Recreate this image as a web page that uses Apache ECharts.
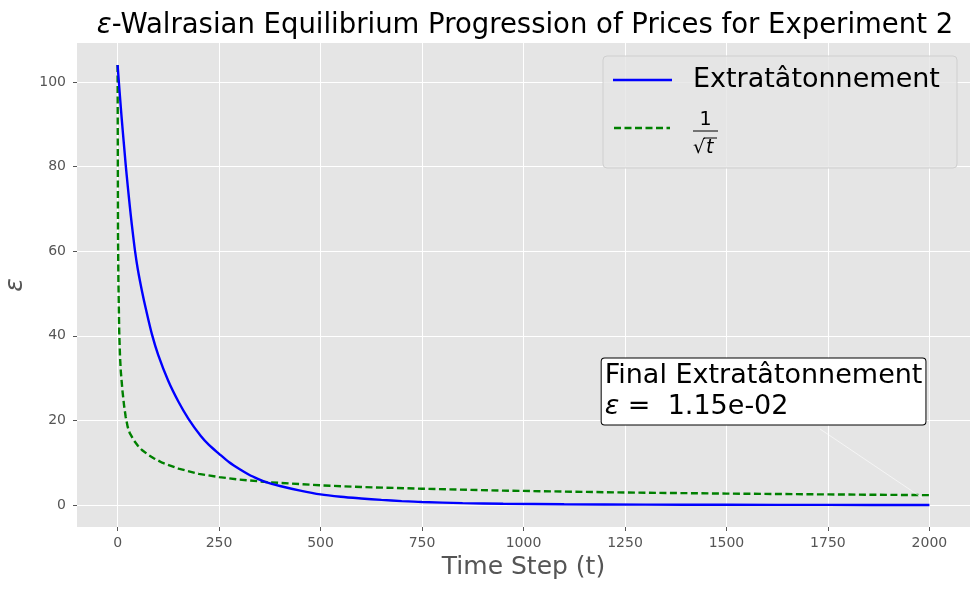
<!DOCTYPE html>
<html>
<head>
<meta charset="utf-8">
<script src="https://cdn.jsdelivr.net/npm/echarts@6/dist/echarts.min.js"></script>
<style>
  html, body { margin: 0; padding: 0; background: #fff; }
  #chart { width: 980px; height: 590px; }
</style>
</head>
<body>
<div id="chart"></div>
<script>
// values
const extraT = [0, 5, 10, 15, 20, 25, 30, 35, 43, 50, 60, 70, 85, 100, 125, 150, 175, 205, 225, 250,
  275, 300, 325, 350, 365, 400, 450, 500, 550, 600, 650, 700, 750, 850, 950, 1100, 1300, 1500, 1750, 2000]
const extraEps = [104, 97.6, 91.5, 85.9, 80.4, 75.4, 70.7, 66.3, 60, 55.6, 50.6, 46.2, 40.2, 35.5, 29.3, 24.4, 20.3, 16.3, 14.2, 12.1,
  10.1, 8.5, 7.1, 6.0, 5.4, 4.5, 3.4, 2.5, 1.95, 1.55, 1.2, 0.92, 0.7, 0.45, 0.3, 0.17, 0.08, 0.045, 0.022, 0.0115]

const refT = [0, 1, 2, 4, 6, 8, 12, 16, 20, 25, 30, 40, 50, 60, 75, 90, 110, 150, 200, 250,
  300, 375, 500, 600, 750, 950, 1250, 1500, 1750, 2000]
const refEps = [104, 64, 53, 41, 35, 31.5, 27, 23.5, 20.8, 18.4, 17, 15.3, 14, 13, 11.9, 11, 10, 8.6, 7.35, 6.6,
  6.0, 5.37, 4.65, 4.25, 3.85, 3.4, 2.95, 2.7, 2.5, 2.33]

const xTicks = [0, 250, 500, 750, 1000, 1250, 1500, 1750, 2000]
const yTicks = [0, 20, 40, 60, 80, 100]
const finalEps = '1.15e-02'

const FONT = 'DejaVu Sans'
const chart = echarts.init(document.getElementById('chart'))

function pairs(xs, ys) {
  return xs.map((x, i) => [x, ys[i]])
}

let option = {
  animation: false,
  backgroundColor: '#ffffff',
  title: {
    text: '{e|ε}-Walrasian Equilibrium Progression of Prices for Experiment 2',
    left: 520,
    textAlign: 'center',
    top: 7,
    textStyle: {
      fontFamily: FONT,
      fontWeight: 'normal',
      fontSize: 27.5,
      color: '#000',
      rich: {
        e: { fontFamily: FONT, fontStyle: 'italic', fontSize: 27.5, color: '#000' }
      }
    }
  },
  grid: {
    left: 77,
    right: 10,
    top: 43,
    bottom: 63,
    containLabel: false,
    outerBoundsMode: 'none',
    show: true,
    backgroundColor: '#E5E5E5',
    borderWidth: 0
  },
  xAxis: {
    type: 'value',
    min: -100,
    max: 2100,
    name: 'Time Step (t)',
    nameLocation: 'middle',
    nameGap: 28,
    nameTextStyle: { fontFamily: FONT, fontSize: 25, color: '#555555' },
    axisLine: { show: false, onZero: false },
    axisTick: { show: true, length: 4, lineStyle: { color: '#555555', width: 1 }, customValues: xTicks },
    axisLabel: {
      fontFamily: FONT, fontSize: 14, color: '#555555', margin: 9, customValues: xTicks,
      formatter: v => String(v)
    },
    splitLine: { show: true, lineStyle: { color: '#ffffff', width: 1 } }
  },
  yAxis: {
    type: 'value',
    min: -5.2,
    max: 109.2,
    name: 'ε',
    nameLocation: 'middle',
    nameGap: 44,
    nameRotate: 90,
    nameTextStyle: { fontFamily: FONT, fontStyle: 'italic', fontSize: 25, color: '#555555' },
    axisLine: { show: false, onZero: false },
    axisTick: { show: true, length: 4, lineStyle: { color: '#555555', width: 1 }, customValues: yTicks },
    axisLabel: {
      fontFamily: FONT, fontSize: 14, color: '#555555', margin: 11, customValues: yTicks,
      formatter: v => String(v)
    },
    splitLine: { show: true, lineStyle: { color: '#ffffff', width: 1 } }
  },
  series: [{
    name: 'Extratâtonnement',
    type: 'line',
    showSymbol: false,
    smooth: 0.3,
    lineStyle: { color: '#0000FF', width: 2.4 },
    data: pairs(extraT, extraEps),
    z: 3
  }, {
    name: '1/sqrt(t)',
    type: 'line',
    showSymbol: false,
    lineStyle: { color: '#008000', width: 2.4, type: [7, 3.5] },
    data: pairs(refT, refEps),
    z: 2
  }]
}
chart.setOption(option)

// annotation + legend, placed through the axes
const p = v => chart.convertToPixel({ gridIndex: 0 }, v)
const boxBottom = p([1200, 19])
const arrowFrom = p([1730, 18])
const arrowTo = p([1985, 1.5])

chart.setOption({
  graphic: [{
    type: 'line',
    shape: { x1: arrowFrom[0], y1: arrowFrom[1], x2: arrowTo[0], y2: arrowTo[1] },
    style: { stroke: 'rgba(255,255,255,0.75)', lineWidth: 0.8 },
    z: 5
  }, {
    type: 'text',
    x: boxBottom[0] - 3,
    y: boxBottom[1],
    z: 10,
    style: {
      text: 'Final Extratâtonnement\n{e|ε}{n| =  ' + finalEps + '}',
      fontFamily: FONT,
      fontSize: 27,
      lineHeight: 31,
      fill: '#000',
      verticalAlign: 'bottom',
      align: 'left',
      backgroundColor: '#ffffff',
      borderColor: '#000000',
      borderWidth: 1,
      borderRadius: 3,
      padding: [2, 3, 2, 3],
      rich: {
        e: { fontFamily: FONT, fontStyle: 'italic', fontSize: 27, lineHeight: 31 },
        n: { fontFamily: FONT, fontSize: 27, lineHeight: 31 }
      }
    }
  }, {
    type: 'group',
    z: 10,
    children: [{
      type: 'rect',
      shape: { x: 603, y: 56, width: 354, height: 112, r: 4 },
      style: { fill: 'rgba(229,229,229,0.8)', stroke: 'rgba(204,204,204,0.9)', lineWidth: 1 }
    }, {
      type: 'line',
      shape: { x1: 613, y1: 80, x2: 672, y2: 80 },
      style: { stroke: '#0000FF', lineWidth: 2.4 }
    }, {
      type: 'text',
      style: { text: 'Extratâtonnement', x: 693, y: 80, fontFamily: FONT, fontSize: 27, fill: '#000', verticalAlign: 'middle' }
    }, {
      type: 'line',
      shape: { x1: 614, y1: 128, x2: 670, y2: 128 },
      style: { stroke: '#008000', lineWidth: 2.4, lineDash: [7, 3.5] }
    }, {
      type: 'text',
      style: { text: '1', x: 705.5, y: 120, fontFamily: FONT, fontSize: 19, fill: '#000', align: 'center', verticalAlign: 'middle' }
    }, {
      type: 'line',
      shape: { x1: 693, y1: 131, x2: 718, y2: 131 },
      style: { stroke: '#000', lineWidth: 1 }
    }, {
      type: 'text',
      style: { text: '√', x: 693, y: 148, fontFamily: FONT, fontSize: 19, fill: '#000', verticalAlign: 'middle' }
    }, {
      type: 'line',
      shape: { x1: 704, y1: 138, x2: 717, y2: 138 },
      style: { stroke: '#000', lineWidth: 1 }
    }, {
      type: 'text',
      style: { text: 't', x: 706, y: 148, fontFamily: FONT, fontStyle: 'italic', fontSize: 19, fill: '#000', verticalAlign: 'middle' }
    }]
  }]
})
</script>
</body>
</html>
